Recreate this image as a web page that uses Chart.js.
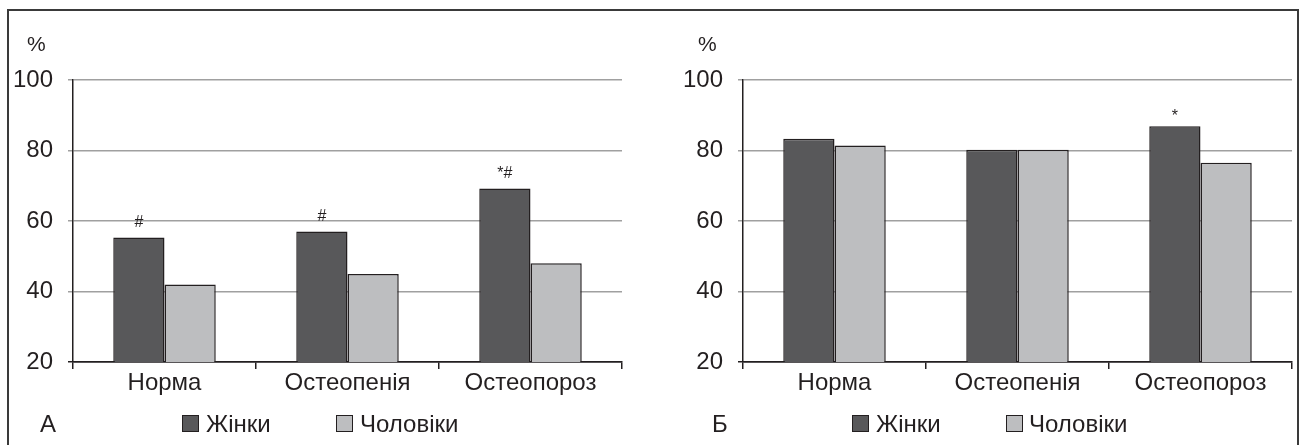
<!DOCTYPE html>
<html>
<head>
<meta charset="utf-8">
<script src="https://cdn.jsdelivr.net/npm/chart.js@4.4.1/dist/chart.umd.min.js"></script>
<style>
  html, body { margin: 0; padding: 0; background: #fff; }
  body { width: 1303px; height: 445px; position: relative; overflow: hidden;
         font-family: "Liberation Sans", Arial, sans-serif; color: #231f20; }
  .frame { position: absolute; left: 7px; top: 9px; width: 1292px; height: 460px;
           border: 2px solid #3a3a3a; border-bottom: none; box-sizing: border-box; }
  .panel { position: absolute; top: 0; height: 445px; }
  .txt { position: absolute; white-space: nowrap; line-height: 1; }
  .pct { font-size: 21px; top: 33px; }
  .leg { font-size: 24px; top: 412px; }
  .sq { position: absolute; top: 415px; width: 17px; height: 17px; box-sizing: border-box;
        border: 1.5px solid #231f20; }
</style>
</head>
<body>
<div class="frame"></div>

<div class="panel" style="left:0;width:651px"><canvas id="chartA"></canvas></div>
<div class="panel" style="left:651px;width:652px"><canvas id="chartB"></canvas></div>

<div class="txt pct" style="left:27px">%</div>
<div class="txt pct" style="left:698px">%</div>

<div class="txt leg" style="left:40px">А</div>
<div class="sq" style="left:182px;background:#58585a"></div>
<div class="txt leg" style="left:206px">Жінки</div>
<div class="sq" style="left:336px;background:#bdbec0"></div>
<div class="txt leg" style="left:360px">Чоловіки</div>

<div class="txt leg" style="left:712px">Б</div>
<div class="sq" style="left:852px;background:#58585a"></div>
<div class="txt leg" style="left:876px">Жінки</div>
<div class="sq" style="left:1006px;background:#bdbec0"></div>
<div class="txt leg" style="left:1029px">Чоловіки</div>

<script>
const categories = ["Норма", "Остеопенія", "Остеопороз"];
const seriesNames = ["Жінки", "Чоловіки"];

// панель А
const womenA = [55.3, 57.0, 69.2];
const menA   = [42.0, 45.0, 48.0];
const marksA = ["#", "#", "*#"];

// панель Б
const womenB = [83.3, 80.2, 86.9];
const menB   = [81.4, 80.2, 76.5];
const marksB = ["", "", "*"];

const yMin = 20, yMax = 100, yStep = 20;

const DARK  = "#58585a";
const LIGHT = "#bdbec0";
const INK   = "#231f20";
const GRID  = "#a0a0a0";

Chart.defaults.font.family = "'Liberation Sans', Arial, sans-serif";
Chart.defaults.color = INK;
Chart.defaults.animation = false;

// значки над стовпчиками жінок
const marksPlugin = {
  id: "marks",
  afterDatasetsDraw(chart, args, opts) {
    const meta = chart.getDatasetMeta(0);
    const ctx = chart.ctx;
    ctx.save();
    ctx.font = "16px 'Liberation Sans', Arial, sans-serif";
    ctx.fillStyle = INK;
    ctx.textAlign = "center";
    ctx.textBaseline = "middle";
    meta.data.forEach((bar, i) => {
      const m = opts.marks[i];
      if (m) ctx.fillText(m, bar.x, bar.y - (m === "*" ? 10 : 15));
    });
    ctx.restore();
  }
};

function makeChart(id, women, men, marks, axisLeft, padRight) {
  new Chart(document.getElementById(id), {
    type: "bar",
    data: {
      labels: categories,
      datasets: [
        { label: seriesNames[0], data: women, backgroundColor: DARK, borderColor: INK, borderWidth: 1.5 },
        { label: seriesNames[1], data: men, backgroundColor: LIGHT, borderColor: INK, borderWidth: 1.5 }
      ]
    },
    options: {
      responsive: true,
      maintainAspectRatio: false,
      categoryPercentage: 0.56,
      barPercentage: 1.0,
      layout: { padding: { top: 80, right: padRight, bottom: 0, left: 0 } },
      plugins: {
        legend: { display: false },
        tooltip: { enabled: false },
        marks: { marks }
      },
      scales: {
        x: {
          afterFit: s => { s.height = 83; },
          grid: { drawOnChartArea: false, drawTicks: true, tickLength: 7, offset: true, color: INK, lineWidth: 1.5 },
          border: { color: INK, width: 1.5 },
          ticks: { font: { size: 24 }, padding: 0, color: INK }
        },
        y: {
          min: yMin, max: yMax,
          afterFit: s => { s.width = axisLeft; },
          grid: {
            color: c => (c.tick && c.tick.value === yMin ? INK : GRID),
            lineWidth: 1.5,
            tickLength: 5
          },
          border: { color: INK, width: 1.5 },
          ticks: { stepSize: yStep, font: { size: 24 }, padding: 15, color: INK }
        }
      }
    },
    plugins: [marksPlugin]
  });
}

makeChart("chartA", womenA, menA, marksA, 73, 29);
makeChart("chartB", womenB, menB, marksB, 92, 11);
</script>
</body>
</html>
